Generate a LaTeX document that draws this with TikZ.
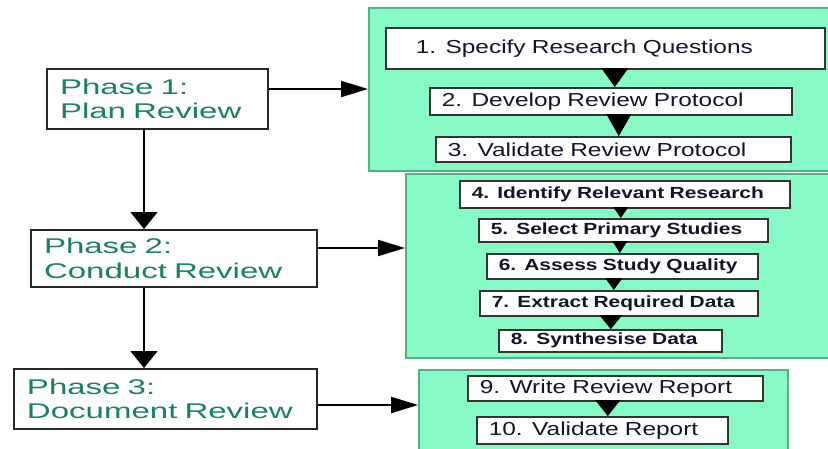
\documentclass[tikz,border=0pt]{standalone}
\usepackage{fontspec}
\newfontfamily\phasesf[FakeStretch=1.55]{Liberation Sans}
\newfontfamily\tasksf[FakeStretch=1.3]{Liberation Sans}
\usepackage{tikz}
\usetikzlibrary{arrows.meta, calc}
\usepackage{xcolor}
\definecolor{panelgreen}{HTML}{88FAC6}
\definecolor{paneledge}{HTML}{52B286}
\definecolor{phaseteal}{HTML}{1A7F69}
\definecolor{taskink}{HTML}{141428}

\begin{document}
\begin{tikzpicture}[
  x=1pt, y=-1pt,
  panel/.style={draw=paneledge, fill=panelgreen, line width=1.5pt, anchor=north west, inner sep=0pt},
  phasebox/.style={draw=black!85, line width=2pt, fill=white, anchor=north west, align=left,
    inner xsep=13pt, inner ysep=0pt, text=phaseteal, font=\phasesf\fontsize{21.3}{24.5}\selectfont},
  taskbox/.style={draw=black!80, line width=1.6pt, fill=white, anchor=north west, align=left,
    inner xsep=12pt, inner ysep=0pt, text=taskink, font=\tasksf\fontsize{18.8}{20}\selectfont},
  boldtask/.style={taskbox, font=\tasksf\bfseries\fontsize{16.1}{18}\selectfont},
  flow/.style={line width=2pt, black},
  >=Triangle
]
  \useasboundingbox (0,0) rectangle (828,448);
  \clip (0,0) rectangle (828,448);

  % --- green panels ---
  \node[panel, minimum width=462pt, minimum height=163pt] (plan) at (368,7) {};
  \node[panel, minimum width=425pt, minimum height=184pt] (conduct) at (405,173) {};
  \node[panel, minimum width=369pt, minimum height=85pt] (document) at (418,369) {};

  % --- phases ---
  \node[phasebox, text width=195pt, minimum height=60pt] (p1) at (46,68) {Phase 1:\\Plan Review};
  \node[phasebox, text width=260pt, minimum height=57pt] (p2) at (30,229) {Phase 2:\\Conduct Review};
  \node[phasebox, text width=277pt, minimum height=60pt] (p3) at (13,368) {Phase 3:\\Document Review};

  % --- tasks ---
  \node[taskbox, inner xsep=30pt, text width=379pt, minimum height=41pt] (t1) at (385,27) {1. Specify Research Questions};
  \node[taskbox, text width=338pt, minimum height=27pt] (t2) at (429,87) {2. Develop Review Protocol};
  \node[taskbox, text width=331pt, minimum height=25pt] (t3) at (435,136) {3. Validate Review Protocol};

  \node[boldtask, text width=306pt, minimum height=27pt] (t4) at (459,180) {4. Identify Relevant Research};
  \node[boldtask, text width=265pt, minimum height=23pt] (t5) at (478,218) {5. Select Primary Studies};
  \node[boldtask, text width=247pt, minimum height=25pt] (t6) at (486,253) {6. Assess Study Quality};
  \node[boldtask, text width=254pt, minimum height=25pt] (t7) at (479,290) {7. Extract Required Data};
  \node[boldtask, text width=199pt, minimum height=22pt] (t8) at (498,329) {8. Synthesise Data};

  \node[taskbox, text width=271pt, minimum height=25pt] (t9) at (467,375) {9. Write Review Report};
  \node[taskbox, text width=227pt, minimum height=27pt] (t10) at (476,416) {10. Validate Report};

  % --- phase arrows ---
  \draw[flow, -{Triangle[length=27pt, width=16pt]}] ([yshift=10pt]p1.east) -- ([yshift=10pt]p1.east -| plan.west);
  \draw[flow, -{Triangle[length=27pt, width=16pt]}] ([yshift=10.5pt]p2.east) -- ([yshift=10.5pt]p2.east -| conduct.west);
  \draw[flow, -{Triangle[length=27pt, width=16pt]}] ([yshift=-6pt]p3.east) -- ([yshift=-6pt]p3.east -| document.west);
  \draw[flow, -{Triangle[length=17pt, width=27pt]}] ([xshift=-13.5pt]p1.south) -- ([xshift=-13.5pt]p1.south |- p2.north);
  \draw[flow, -{Triangle[length=17pt, width=27pt]}] ([xshift=-30pt]p2.south) -- ([xshift=-30pt]p2.south |- p3.north);

  % --- task arrows (head only) ---
  \foreach \a/\b/\dx/\len/\wid in {t1/t2/4/19/27, t2/t3/5.5/22/25, t4/t5/-2.5/11/15,
      t5/t6/-2.5/12/15, t6/t7/-5/12/17, t7/t8/0.5/14/23, t9/t10/5.5/16/25} {
    \draw[line width=0.4pt, black, -{Triangle[length=\len pt, width=\wid pt]}]
      ([xshift=\dx pt]\b.north |- \a.south) -- ([xshift=\dx pt]\b.north);
  }
\end{tikzpicture}
\end{document}
